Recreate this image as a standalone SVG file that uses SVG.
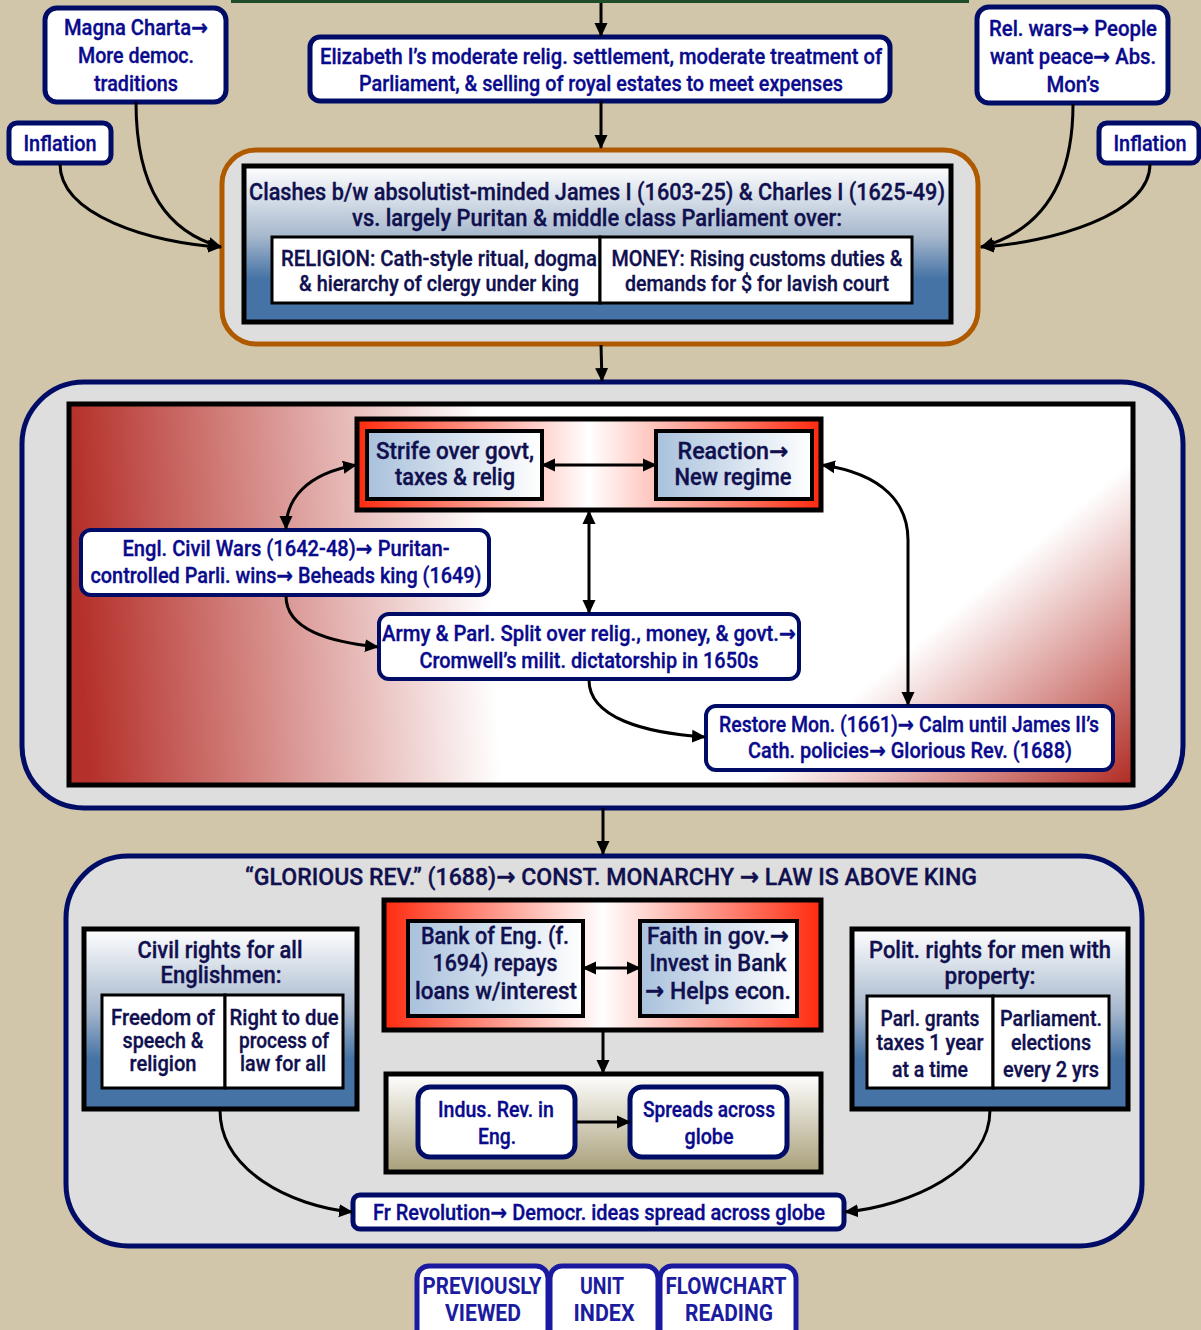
<svg xmlns="http://www.w3.org/2000/svg" width="1201" height="1330" viewBox="0 0 1201 1330">
<style>
  .t { font-family: "Roboto", "Liberation Sans", "DejaVu Sans", sans-serif; text-anchor: middle; font-weight: 500; stroke-width: 0.35px; }
  .nv { fill: #0a0a8c; stroke: #0a0a8c; font-size: 22px; }
  .dk { fill: #10104f; stroke: #10104f; font-size: 22px; }
  .big { font-size: 24px; }
  .mid { font-size: 23px; }
  .ar { font-family: "DejaVu Sans", sans-serif; font-weight: bold; }
  .pill { fill: #ffffff; stroke: #000c66; stroke-width: 5; }
  .frame { stroke: #000000; stroke-width: 5; }
  .cell { fill: #ffffff; stroke: #000000; stroke-width: 3; }
  .panel { fill: #dedede; stroke: #000c66; stroke-width: 5; }
  .nav { fill: #ffffff; stroke: #1a1aa0; stroke-width: 5; }
  .navt { fill: #1c1ca0; stroke: none; font-size: 23px; font-weight: bold; }
  .con { fill: none; stroke: #000000; stroke-width: 3; }
</style>
<defs>
  <marker id="ah" markerWidth="15" markerHeight="15" refX="13" refY="7" orient="auto-start-reverse" markerUnits="userSpaceOnUse">
    <path d="M0,0.5 L14,7 L0,13.5 z" fill="#000"/>
  </marker>
  <linearGradient id="blueV" x1="0" y1="0" x2="0" y2="1">
    <stop offset="0" stop-color="#ffffff"/>
    <stop offset="0.45" stop-color="#a7b8cd"/>
    <stop offset="0.72" stop-color="#4673a5"/>
    <stop offset="1" stop-color="#4673a5"/>
  </linearGradient>
  <linearGradient id="cellBlue" x1="0" y1="0" x2="1" y2="0">
    <stop offset="0" stop-color="#a9c1dc"/>
    <stop offset="1" stop-color="#ffffff"/>
  </linearGradient>
  <linearGradient id="redH" x1="0" y1="0" x2="1" y2="0">
    <stop offset="0" stop-color="#ff2a0e"/>
    <stop offset="0.5" stop-color="#ffffff"/>
    <stop offset="1" stop-color="#ff2a0e"/>
  </linearGradient>
  <linearGradient id="warL" gradientUnits="userSpaceOnUse" x1="69" y1="404" x2="480" y2="382">
    <stop offset="0" stop-color="#b5302a"/>
    <stop offset="1" stop-color="#ffffff"/>
  </linearGradient>
  <linearGradient id="warR" gradientUnits="userSpaceOnUse" x1="1133" y1="460" x2="1293" y2="649">
    <stop offset="0" stop-color="#b5302a" stop-opacity="0"/>
    <stop offset="1" stop-color="#b02a22" stop-opacity="1"/>
  </linearGradient>
  <linearGradient id="tanV" x1="0" y1="0" x2="0" y2="1">
    <stop offset="0" stop-color="#ffffff"/>
    <stop offset="1" stop-color="#a89e78"/>
  </linearGradient>
</defs>

<!-- page -->
<rect x="0" y="0" width="1201" height="1330" fill="#d1c6aa"/>
<rect x="231" y="0" width="738" height="3" fill="#1f4d2a"/>

<!-- tier 1: causes -->
<g id="magna">
  <rect class="pill" x="45" y="8" width="181" height="94" rx="12"/>
  <text class="t nv" x="136" y="35" textLength="144" lengthAdjust="spacingAndGlyphs">Magna Charta<tspan class="ar">→</tspan></text>
  <text class="t nv" x="136" y="63" textLength="116" lengthAdjust="spacingAndGlyphs">More democ.</text>
  <text class="t nv" x="136" y="91" textLength="84" lengthAdjust="spacingAndGlyphs">traditions</text>
</g>
<g id="elizabeth">
  <rect class="pill" x="310" y="37" width="580" height="64" rx="10"/>
  <text class="t nv" x="601" y="64" textLength="562" lengthAdjust="spacingAndGlyphs">Elizabeth I’s moderate relig. settlement, moderate treatment of</text>
  <text class="t nv" x="601" y="91" textLength="484" lengthAdjust="spacingAndGlyphs">Parliament, &amp; selling of royal estates to meet expenses</text>
</g>
<g id="relwars">
  <rect class="pill" x="977" y="7" width="191" height="96" rx="12"/>
  <text class="t nv" x="1073" y="36" textLength="168" lengthAdjust="spacingAndGlyphs">Rel. wars<tspan class="ar">→</tspan> People</text>
  <text class="t nv" x="1073" y="64" textLength="166" lengthAdjust="spacingAndGlyphs">want peace<tspan class="ar">→</tspan> Abs.</text>
  <text class="t nv" x="1073" y="92" textLength="53" lengthAdjust="spacingAndGlyphs">Mon’s</text>
</g>
<g id="inflationL">
  <rect class="pill" x="9" y="123" width="102" height="40" rx="8"/>
  <text class="t nv" x="60" y="151" textLength="73" lengthAdjust="spacingAndGlyphs">Inflation</text>
</g>
<g id="inflationR">
  <rect class="pill" x="1099" y="123" width="100" height="40" rx="8"/>
  <text class="t nv" x="1150" y="151" textLength="73" lengthAdjust="spacingAndGlyphs">Inflation</text>
</g>

<!-- tier 2: clashes -->
<g id="clashes">
  <rect x="222" y="150" width="756" height="194" rx="34" fill="#dedede" stroke="#b05a00" stroke-width="5"/>
  <rect class="frame" x="244" y="166" width="707" height="156" fill="url(#blueV)"/>
  <text class="t dk big" x="597" y="200" textLength="696" lengthAdjust="spacingAndGlyphs">Clashes b/w absolutist-minded James I (1603-25) &amp; Charles I (1625-49)</text>
  <text class="t dk big" x="597" y="226" textLength="490" lengthAdjust="spacingAndGlyphs">vs. largely Puritan &amp; middle class Parliament over:</text>
  <rect class="cell" x="272" y="237" width="328" height="66"/>
  <rect class="cell" x="600" y="237" width="312" height="66"/>
  <text class="t dk" x="439" y="266" textLength="316" lengthAdjust="spacingAndGlyphs">RELIGION: Cath-style ritual, dogma</text>
  <text class="t dk" x="439" y="291" textLength="280" lengthAdjust="spacingAndGlyphs">&amp; hierarchy of clergy under king</text>
  <text class="t dk" x="757" y="266" textLength="291" lengthAdjust="spacingAndGlyphs">MONEY: Rising customs duties &amp;</text>
  <text class="t dk" x="757" y="291" textLength="264" lengthAdjust="spacingAndGlyphs">demands for $ for lavish court</text>
</g>

<!-- tier 3: civil war cycle -->
<g id="cycle">
  <rect class="panel" x="22" y="382" width="1161" height="426" rx="62"/>
  <rect x="69" y="404" width="1064" height="381" fill="url(#warL)"/>
  <rect x="69" y="404" width="1064" height="381" fill="url(#warR)"/>
  <rect x="69" y="404" width="1064" height="381" fill="none" stroke="#000" stroke-width="5"/>
</g>
<g id="strifeGroup">
  <rect class="frame" x="357" y="419" width="464" height="91" fill="url(#redH)"/>
</g>
<g id="strife">
  <rect class="frame" x="367" y="431" width="175" height="68" fill="url(#cellBlue)" style="stroke-width:4"/>
  <text class="t dk mid" x="455" y="459" textLength="158" lengthAdjust="spacingAndGlyphs">Strife over govt,</text>
  <text class="t dk mid" x="455" y="485" textLength="120" lengthAdjust="spacingAndGlyphs">taxes &amp; relig</text>
</g>
<g id="reaction">
  <rect class="frame" x="656" y="431" width="156" height="68" fill="url(#cellBlue)" style="stroke-width:4"/>
  <text class="t dk mid" x="733" y="459" textLength="111" lengthAdjust="spacingAndGlyphs">Reaction<tspan class="ar">→</tspan></text>
  <text class="t dk mid" x="733" y="485" textLength="117" lengthAdjust="spacingAndGlyphs">New regime</text>
</g>
<g id="civilwars">
  <rect class="pill" x="81" y="530" width="408" height="65" rx="10" style="stroke-width:4"/>
  <text class="t nv" x="286" y="556" textLength="327" lengthAdjust="spacingAndGlyphs">Engl. Civil Wars (1642-48)<tspan class="ar">→</tspan> Puritan-</text>
  <text class="t nv" x="286" y="583" textLength="391" lengthAdjust="spacingAndGlyphs">controlled Parli. wins<tspan class="ar">→</tspan> Beheads king (1649)</text>
</g>
<g id="cromwell">
  <rect class="pill" x="379" y="614" width="420" height="65" rx="10" style="stroke-width:4"/>
  <text class="t nv" x="589" y="641" textLength="414" lengthAdjust="spacingAndGlyphs">Army &amp; Parl. Split over relig., money, &amp; govt.<tspan class="ar">→</tspan></text>
  <text class="t nv" x="589" y="668" textLength="339" lengthAdjust="spacingAndGlyphs">Cromwell’s milit. dictatorship in 1650s</text>
</g>
<g id="restore">
  <rect class="pill" x="706" y="706" width="407" height="64" rx="10" style="stroke-width:4"/>
  <text class="t nv" x="909" y="732" textLength="380" lengthAdjust="spacingAndGlyphs">Restore Mon. (1661)<tspan class="ar">→</tspan> Calm until James II’s</text>
  <text class="t nv" x="910" y="758" textLength="324" lengthAdjust="spacingAndGlyphs">Cath. policies<tspan class="ar">→</tspan> Glorious Rev. (1688)</text>
</g>

<!-- tier 4: glorious revolution -->
<g id="glorious">
  <rect class="panel" x="66" y="856" width="1076" height="390" rx="62"/>
  <text class="t dk big" x="611" y="885" textLength="732" lengthAdjust="spacingAndGlyphs">“GLORIOUS REV.” (1688)<tspan class="ar">→</tspan> CONST. MONARCHY <tspan class="ar">→</tspan> LAW IS ABOVE KING</text>
</g>
<g id="civilrights">
  <rect class="frame" x="84" y="929" width="273" height="180" fill="url(#blueV)"/>
  <text class="t dk mid" x="220" y="958" textLength="165" lengthAdjust="spacingAndGlyphs">Civil rights for all</text>
  <text class="t dk mid" x="221" y="983" textLength="121" lengthAdjust="spacingAndGlyphs">Englishmen:</text>
  <rect class="cell" x="102" y="995" width="123" height="93"/>
  <rect class="cell" x="225" y="995" width="118" height="93"/>
  <text class="t dk" x="163" y="1025" textLength="104" lengthAdjust="spacingAndGlyphs">Freedom of</text>
  <text class="t dk" x="163" y="1048" textLength="81" lengthAdjust="spacingAndGlyphs">speech &amp;</text>
  <text class="t dk" x="163" y="1071" textLength="67" lengthAdjust="spacingAndGlyphs">religion</text>
  <text class="t dk" x="284" y="1025" textLength="109" lengthAdjust="spacingAndGlyphs">Right to due</text>
  <text class="t dk" x="284" y="1048" textLength="90" lengthAdjust="spacingAndGlyphs">process of</text>
  <text class="t dk" x="283" y="1071" textLength="86" lengthAdjust="spacingAndGlyphs">law for all</text>
</g>
<g id="politrights">
  <rect class="frame" x="852" y="929" width="276" height="180" fill="url(#blueV)"/>
  <text class="t dk mid" x="990" y="958" textLength="242" lengthAdjust="spacingAndGlyphs">Polit. rights for men with</text>
  <text class="t dk mid" x="990" y="984" textLength="91" lengthAdjust="spacingAndGlyphs">property:</text>
  <rect class="cell" x="867" y="996" width="126" height="92"/>
  <rect class="cell" x="993" y="996" width="116" height="92"/>
  <text class="t dk" x="930" y="1026" textLength="99" lengthAdjust="spacingAndGlyphs">Parl. grants</text>
  <text class="t dk" x="930" y="1050" textLength="107" lengthAdjust="spacingAndGlyphs">taxes 1 year</text>
  <text class="t dk" x="930" y="1077" textLength="76" lengthAdjust="spacingAndGlyphs">at a time</text>
  <text class="t dk" x="1051" y="1026" textLength="102" lengthAdjust="spacingAndGlyphs">Parliament.</text>
  <text class="t dk" x="1051" y="1050" textLength="80" lengthAdjust="spacingAndGlyphs">elections</text>
  <text class="t dk" x="1051" y="1077" textLength="96" lengthAdjust="spacingAndGlyphs">every 2 yrs</text>
</g>
<g id="bankGroup">
  <rect class="frame" x="384" y="900" width="437" height="130" fill="url(#redH)"/>
</g>
<g id="bank">
  <rect class="frame" x="408" y="921" width="175" height="95" fill="url(#cellBlue)" style="stroke-width:4"/>
  <text class="t dk big" x="495" y="944" textLength="148" lengthAdjust="spacingAndGlyphs">Bank of Eng. (f.</text>
  <text class="t dk big" x="495" y="971" textLength="125" lengthAdjust="spacingAndGlyphs">1694) repays</text>
  <text class="t dk big" x="496" y="999" textLength="162" lengthAdjust="spacingAndGlyphs">loans w/interest</text>
</g>
<g id="faith">
  <rect class="frame" x="640" y="921" width="157" height="95" fill="url(#cellBlue)" style="stroke-width:4"/>
  <text class="t dk big" x="718" y="944" textLength="142" lengthAdjust="spacingAndGlyphs">Faith in gov.<tspan class="ar">→</tspan></text>
  <text class="t dk big" x="718" y="971" textLength="137" lengthAdjust="spacingAndGlyphs">Invest in Bank</text>
  <text class="t dk big" x="718" y="999" textLength="146" lengthAdjust="spacingAndGlyphs"><tspan class="ar">→</tspan> Helps econ.</text>
</g>
<g id="indusGroup">
  <rect class="frame" x="386" y="1074" width="435" height="98" fill="url(#tanV)"/>
</g>
<g id="indus">
  <rect class="pill" x="418" y="1087" width="157" height="70" rx="12"/>
  <text class="t nv" x="496" y="1117" textLength="116" lengthAdjust="spacingAndGlyphs">Indus. Rev. in</text>
  <text class="t nv" x="497" y="1144" textLength="38" lengthAdjust="spacingAndGlyphs">Eng.</text>
</g>
<g id="spreads">
  <rect class="pill" x="630" y="1087" width="157" height="70" rx="12"/>
  <text class="t nv" x="709" y="1117" textLength="132" lengthAdjust="spacingAndGlyphs">Spreads across</text>
  <text class="t nv" x="709" y="1144" textLength="49" lengthAdjust="spacingAndGlyphs">globe</text>
</g>
<g id="frenchrev">
  <rect class="pill" x="353" y="1195" width="491" height="34" rx="7"/>
  <text class="t nv" x="599" y="1220" textLength="452" lengthAdjust="spacingAndGlyphs">Fr Revolution<tspan class="ar">→</tspan> Democr. ideas spread across globe</text>
</g>

<!-- navigation buttons -->
<g id="navPrev">
  <rect class="nav" x="417" y="1266" width="131" height="80" rx="12"/>
  <text class="t navt" x="482" y="1294" textLength="119" lengthAdjust="spacingAndGlyphs">PREVIOUSLY</text>
  <text class="t navt" x="483" y="1321" textLength="76" lengthAdjust="spacingAndGlyphs">VIEWED</text>
</g>
<g id="navUnit">
  <rect class="nav" x="550" y="1266" width="108" height="80" rx="12"/>
  <text class="t navt" x="602" y="1294" textLength="44" lengthAdjust="spacingAndGlyphs">UNIT</text>
  <text class="t navt" x="604" y="1321" textLength="61" lengthAdjust="spacingAndGlyphs">INDEX</text>
</g>
<g id="navFlow">
  <rect class="nav" x="660" y="1266" width="136" height="80" rx="12"/>
  <text class="t navt" x="726" y="1294" textLength="121" lengthAdjust="spacingAndGlyphs">FLOWCHART</text>
  <text class="t navt" x="729" y="1321" textLength="88" lengthAdjust="spacingAndGlyphs">READING</text>
</g>

<!-- connectors -->
<g id="connectors">
  <path class="con" marker-end="url(#ah)" d="M601,3 L601,36"/>
  <path class="con" marker-end="url(#ah)" d="M601,101 L601,148"/>
  <path class="con" marker-end="url(#ah)" d="M136,102 C136,190 168,232 221,247"/>
  <path class="con" marker-end="url(#ah)" d="M60,164 C60,215 150,243 221,247"/>
  <path class="con" marker-end="url(#ah)" d="M1073,104 C1073,190 1036,232 981,247"/>
  <path class="con" marker-end="url(#ah)" d="M1150,164 C1150,215 1050,243 981,247"/>
  <path class="con" marker-end="url(#ah)" d="M601,345 L602,381"/>
  <path class="con" marker-start="url(#ah)" marker-end="url(#ah)" d="M542,465 L656,465"/>
  <path class="con" marker-start="url(#ah)" marker-end="url(#ah)" d="M356,465 C305,474 286,500 286,529"/>
  <path class="con" marker-start="url(#ah)" marker-end="url(#ah)" d="M822,465 C885,474 908,505 908,540 L908,705"/>
  <path class="con" marker-start="url(#ah)" marker-end="url(#ah)" d="M589,511 L589,613"/>
  <path class="con" marker-end="url(#ah)" d="M286,596 C286,630 330,642 378,647"/>
  <path class="con" marker-end="url(#ah)" d="M589,680 C589,718 645,733 705,737"/>
  <path class="con" marker-end="url(#ah)" d="M603,808 L603,854"/>
  <path class="con" marker-start="url(#ah)" marker-end="url(#ah)" d="M583,968 L640,968"/>
  <path class="con" marker-end="url(#ah)" d="M603,1031 L603,1073"/>
  <path class="con" marker-end="url(#ah)" d="M576,1122 L630,1122"/>
  <path class="con" marker-end="url(#ah)" d="M220,1110 C220,1170 290,1206 352,1212"/>
  <path class="con" marker-end="url(#ah)" d="M990,1110 C990,1170 910,1206 845,1212"/>
</g>
</svg>
